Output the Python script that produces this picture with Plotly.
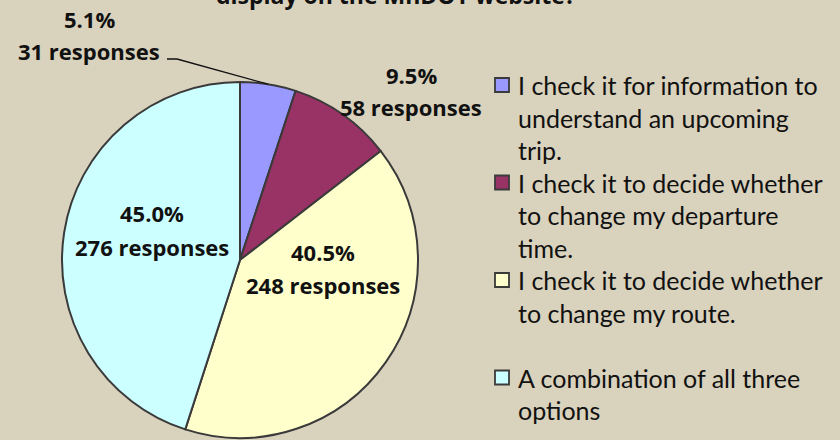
import math
import plotly.graph_objects as go

# ---------------- data ----------------
categories = [
    "I check it for information to understand an upcoming trip.",
    "I check it to decide whether to change my departure time.",
    "I check it to decide whether to change my route.",
    "A combination of all three options",
]
legend_lines = [
    ["I check it for information to", "understand an upcoming", "trip."],
    ["I check it to decide whether", "to change my departure", "time."],
    ["I check it to decide whether", "to change my route.", ""],
    ["A combination of all three", "options"],
]
responses = [31, 58, 248, 276]
colors = ["#9999FF", "#993366", "#FFFFCC", "#CCFFFF"]
title_text = "display on the MnDOT website?"

# ---------------- layout helpers ----------------
W, H = 840, 440
BG = "#D9D2BD"
LABEL_FONT = "Open Sans"
LEGEND_FONT = "Lato"
CX, CY, R = 240, 260, 178
EDGE = "#3A3A3A"


def px(x):
    return x / W


def py(y):
    return 1 - y / H


total = sum(responses)

fig = go.Figure(
    go.Pie(
        labels=categories,
        values=responses,
        sort=False,
        direction="clockwise",
        rotation=0,
        marker=dict(colors=colors, line=dict(color=EDGE, width=2)),
        textinfo="none",
        hoverinfo="label+value+percent",
        domain=dict(x=[px(CX - R), px(CX + R)], y=[py(CY + R), py(CY - R)]),
        showlegend=False,
    )
)

annotations = []
# data label positions (pixel centres of the two lines)
label_pos = [(89, 19, 51), (411, 75, 107), (323, 252, 285), (152, 213, 247)]
for v, (lx, ly1, ly2) in zip(responses, label_pos):
    for txt, yy in ((f"{v / total * 100:.1f}%", ly1), (f"{v} responses", ly2)):
        annotations.append(dict(
            x=px(lx), y=py(yy), xref="paper", yref="paper", text=f"<b>{txt}</b>",
            showarrow=False, xanchor="center", yanchor="middle",
            font=dict(family=LABEL_FONT, size=22, color="#111111"),
        ))

# leader line for the smallest slice: to the middle of its arc
mid_frac = responses[0] / total / 2
ang = mid_frac * 2 * math.pi
ex, ey = CX + R * math.sin(ang), CY - R * math.cos(ang)
shapes = [dict(type="path", xref="paper", yref="paper",
               path=f"M {px(167)},{py(59)} L {px(177)},{py(59)} L {px(ex)},{py(ey)}",
               line=dict(color="#111111", width=1.3))]

# title (cut off at the top of the picture)
annotations.append(dict(
    x=px(396), y=py(-5), xref="paper", yref="paper", text=f"<b>{title_text}</b>",
    showarrow=False, xanchor="center", yanchor="middle",
    font=dict(family=LABEL_FONT, size=23, color="#111111"),
))

# legend (manual, to get Excel-like line spacing)
LX_SQ, LX_TXT, LY0, LSTEP, SQ = 502, 516, 85, 32.5, 14
line_i = 0
for col, lines in zip(colors, legend_lines):
    y0 = LY0 + line_i * LSTEP
    shapes.append(dict(type="rect", xref="paper", yref="paper",
                       x0=px(LX_SQ - SQ / 2), x1=px(LX_SQ + SQ / 2),
                       y0=py(y0 - SQ / 2), y1=py(y0 + SQ / 2),
                       fillcolor=col, line=dict(color=EDGE, width=1.8)))
    for ln in lines:
        yy = LY0 + line_i * LSTEP
        if ln:
            annotations.append(dict(
                x=px(LX_TXT), y=py(yy), xref="paper", yref="paper", text=ln,
                showarrow=False, xanchor="left", yanchor="middle",
                font=dict(family=LEGEND_FONT, size=25, color="#111111"),
            ))
        line_i += 1

fig.update_layout(
    width=W, height=H,
    margin=dict(l=0, r=0, t=0, b=0),
    paper_bgcolor=BG, plot_bgcolor=BG,
    annotations=annotations, shapes=shapes,
)

fig.write_html(
    "out.html",
    config={"displayModeBar": False},
    post_script="document.body.style.margin='0';document.body.style.overflow='hidden';",
)
